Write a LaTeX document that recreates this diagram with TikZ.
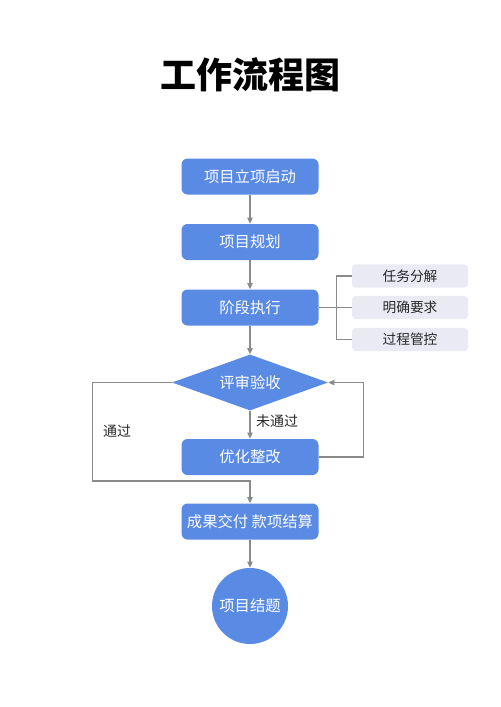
\documentclass[tikz,border=0pt]{standalone}
\usepackage{fontspec}
\setmainfont{Noto Sans CJK SC}
\usepackage{tikz}
\usetikzlibrary{arrows.meta}
\usetikzlibrary{shapes.geometric}
\definecolor{stepblue}{RGB}{89,138,228}
\definecolor{subfill}{RGB}{233,234,243}
\definecolor{linegray}{RGB}{138,138,138}
\definecolor{subtext}{RGB}{40,40,40}

\begin{document}
\begin{tikzpicture}[x=0.75pt,y=0.75pt,yscale=-1,xscale=1,
  stepbox/.style={fill=stepblue, rounded corners=4.5pt, minimum width=102.75pt, minimum height=27pt, inner sep=0pt, text=white, font=\fontsize{11.5}{13}\selectfont},
  subbox/.style={fill=subfill, rounded corners=3pt, minimum width=87pt, minimum height=17.5pt, inner sep=0pt, text=subtext, font=\fontsize{10.3}{12}\selectfont},
  checkbox/.style={diamond, fill=stepblue, aspect=2.8, minimum width=117pt, minimum height=42pt, inner sep=0pt, text=white, font=\fontsize{11.5}{13}\selectfont},
  endcircle/.style={circle, fill=stepblue, minimum size=57pt, inner sep=0pt, text=white, font=\fontsize{11.5}{13}\selectfont},
  flowline/.style={draw=linegray, line width=0.8pt, -{Triangle[length=4.5pt,width=4pt]}},
  subline/.style={draw=linegray, line width=0.8pt},
  note/.style={text=subtext, font=\fontsize{10.5}{12}\selectfont}]
\useasboundingbox (0,0) rectangle (500,707);

% Title
\node (title) at (250,75) {\fontsize{27}{32}\selectfont\bfseries 工作流程图};

%Shape: Steps
\node [stepbox] (start) at (250,176.5) {项目立项启动};
\node [stepbox] (plan) at (250,242) {项目规划};
\node [stepbox] (exec) at (250,307.5) {阶段执行};
\node [checkbox] (review) at (250,382.5) {评审验收};
\node [stepbox] (fix) at (250,457) {优化整改};
\node [stepbox] (deliver) at (250,521.5) {成果交付 款项结算};
\node [endcircle] (finish) at (250,606) {项目结题};

%Shape: Sub tasks
\node [subbox] (split) at (410,276) {任务分解};
\node [subbox] (goal) at (410,307.5) {明确要求};
\node [subbox] (control) at (410,339.5) {过程管控};

%Straight Lines
\draw [flowline] (start) -- (plan);
\draw [flowline] (plan) -- (exec);
\draw [flowline] (exec) -- (review);
\draw [flowline] (review) -- (fix);
\draw [flowline] (deliver) -- (finish);
\draw [subline] (exec) -- (goal);
\draw [subline] (split.west) -- ++(-15,0) |- (control.west);

%Loop back and pass
\coordinate (merge) at (250,481);
\draw [flowline] (fix.east) -- ++(45,0) |- (review.east);
\draw [flowline] (review.west) -- ++(-79,0) |- (merge) -- (deliver);

% Text Node
\node [note] (failtext) at (277,421) {未通过};
% Text Node
\node [note] (passtext) at (117,431) {通过};

\end{tikzpicture}
\end{document}
